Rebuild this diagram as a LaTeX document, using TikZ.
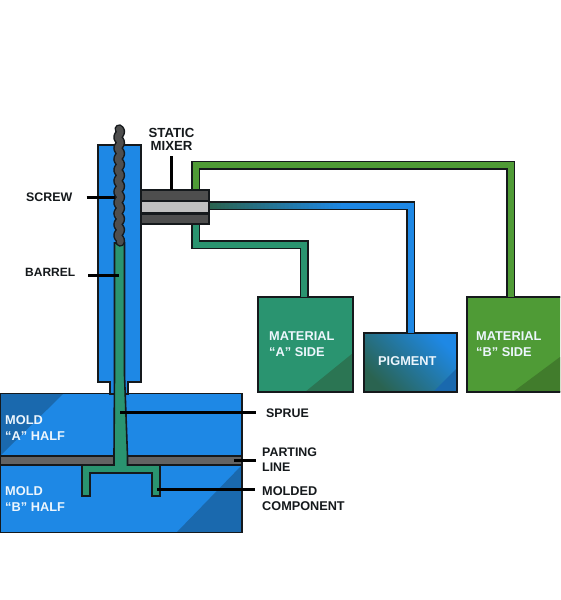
\documentclass[tikz,border=0pt]{standalone}
\usepackage{fontspec}
\setmainfont{Liberation Sans}
\definecolor{ink}{HTML}{15191C}
\definecolor{bluem}{HTML}{1E88E5}
\definecolor{blued}{HTML}{1A69AE}
\definecolor{tealm}{HTML}{2A9470}
\definecolor{teald}{HTML}{2B7553}
\definecolor{greenm}{HTML}{4F9B36}
\definecolor{greend}{HTML}{417C2C}
\definecolor{greym}{HTML}{4E4E4E}
\definecolor{greyp}{HTML}{636363}
\definecolor{greyl}{HTML}{C0C0C0}
\definecolor{pigd}{HTML}{2A6350}
\begin{document}
\begin{tikzpicture}[x=1pt,y=-1pt,
  box/.style={draw=ink,line width=1.6pt,inner sep=0pt,outer sep=0pt,rectangle},
  outline/.style={draw=ink,line width=1.6pt},
  pipeo/.style={draw=ink,line width=9pt,line join=miter},
  pipei/.style={line width=6pt,line join=miter},
  leader/.style={draw=black,line width=3pt},
  lab/.style={font=\fontsize{12.4}{15.5}\selectfont\bfseries,text=ink,align=left,inner sep=0pt,anchor=west},
  wlab/.style={font=\fontsize{12.8}{16}\selectfont\bfseries,text=white!92!bluem,align=left,inner sep=0pt,anchor=west}]
\useasboundingbox (0,0) rectangle (560,600);
\clip (0,0) rectangle (560,600);
\fill[white] (0,0) rectangle (560,600);
% anchors for pipes
\coordinate (gx) at (195.5,0);
\coordinate (bx) at (510.5,0);
\coordinate (ax) at (304,0);
\coordinate (px) at (410.5,0);
\coordinate (gy) at (0,165);
\coordinate (ay) at (0,244.5);
\coordinate (py) at (0,205.5);
% boxes
\node[box,fill=tealm,minimum width=95pt,minimum height=95pt] (matA) at (305.5,344.5) {};
\node[box,fill=greenm,minimum width=120pt,minimum height=95pt] (matB) at (527,344.5) {};
\node[box,top color=bluem,bottom color=pigd,shading angle=-45,minimum width=93pt,minimum height=59pt] (pig) at (410.5,362.5) {};
\fill[teald] (353,353) -- (353,392) -- (305,392) -- cycle;
\fill[greend] (560,357) -- (560,392) -- (513,392) -- cycle;
\fill[blued] (457,368) -- (457,392) -- (433,392) -- cycle;
\draw[outline] (matA.north west) rectangle (matA.south east);
\draw[outline] (matB.north west) rectangle (matB.south east);
\draw[outline] (pig.north west) rectangle (pig.south east);
% mixer
\node[box,fill=greym,minimum width=68pt,minimum height=34pt] (mixer) at (175,207) {};
% pipes
\draw[pipeo] (mixer.north -| gx) |- (gy -| bx) -- (matB.north -| bx);
\draw[pipei,greenm] (mixer.north -| gx) |- (gy -| bx) -- (matB.north -| bx);
\draw[pipeo] (mixer.south -| gx) |- (ay -| ax) -- (matA.north -| ax);
\draw[pipei,tealm] (mixer.south -| gx) |- (ay -| ax) -- (matA.north -| ax);
\draw[pipeo] (mixer.east |- py) -| (pig.north -| px);
\draw[pipei,bluem] (mixer.east |- py) -| (pig.north -| px);
\foreach \i in {0,...,33} {
  \pgfmathsetmacro{\pct}{\i*100/33}
  \fill[bluem!\pct!pigd] ({209+\i*4},202.5) rectangle ({209+\i*4+4.3},208.5);
}
% mixer parts
\fill[greyl] (141,201.5) rectangle (208,213);
\draw[line width=2.4pt,ink] (141,201) -- (209,201);
\draw[line width=2.4pt,ink] (141,213.5) -- (209,213.5);
\draw[outline] (mixer.north west) rectangle (mixer.south east);
% molds
\node[box,fill=bluem,minimum width=242pt,minimum height=63pt] (moldA) at (121,425) {};
\node[box,fill=bluem,minimum width=242pt,minimum height=68pt] (moldB) at (121,498.5) {};
\fill[blued] (0,394) -- (63,394) -- (0,456) -- cycle;
\fill[blued] (242,465) -- (242,532) -- (177,532) -- cycle;
\draw[outline] (moldA.north west) rectangle (moldA.south east);
\draw[outline] (moldB.north west) rectangle (moldB.south east);
\node[box,fill=greyp,minimum width=242pt,minimum height=9pt] (part) at (121,460.5) {};
% barrel
\fill[bluem,draw=ink,line width=1.6pt,line join=miter] (98,145) -- (141,145) -- (141,382) -- (128,382) -- (128,394) -- (110,394) -- (110,382) -- (98,382) -- cycle;
% sprue and component
\fill[tealm,draw=ink,line width=1.6pt,line join=miter] (114.5,243) -- (124.5,243) -- (124.5,375) -- (127.5,456) -- (127.5,465) -- (160,465) -- (160,496) -- (152,496) -- (152,473) -- (90,473) -- (90,496) -- (82,496) -- (82,465) -- (114,465) -- (114,456) -- (114.5,375) -- cycle;
% screw
\draw[ink,line width=9.5pt,line cap=round,line join=round] plot[smooth,domain=0:113,samples=70] ({119.2+1.3*sin(\x*33)},{129+\x});
\draw[greym,line width=6.5pt,line cap=round,line join=round] plot[smooth,domain=0:113,samples=70] ({119.2+1.3*sin(\x*33)},{129+\x});
% labels
\node[lab,align=center,anchor=center,font=\fontsize{13.2}{15.5}\selectfont\bfseries] (lmixer) at (171.5,139.5) {STATIC\\[-2.5pt]MIXER};
\node[lab] (lscrew) at (26,197) {SCREW};
\node[lab,font=\fontsize{12}{15.5}\selectfont\bfseries] (lbarrel) at (25,272) {BARREL};
\node[lab] (lsprue) at (266,413.5) {SPRUE};
\node[lab] (lparting) at (262,459.5) {PARTING\\LINE};
\node[lab,font=\fontsize{12.7}{15.5}\selectfont\bfseries] (lmolded) at (262,498.5) {MOLDED\\COMPONENT};
\coordinate (escrew) at (115,197);
\coordinate (ebarrel) at (119,275);
\coordinate (esprue) at (120,412);
\coordinate (eparting) at (234,460);
\coordinate (emolded) at (157,489);
\coordinate (ebarrelstart) at (88,275);
\coordinate (esprueend) at (256,412);
\coordinate (epartingend) at (256,460);
\coordinate (emoldedend) at (255,489);
\draw[leader,shorten <=14pt] (lscrew.east) -- (escrew);
\draw[leader] (ebarrelstart) -- (ebarrel);
\draw[leader,shorten <=2pt] (lmixer.south |- 0,154) -- (lmixer.south |- mixer.north);
\draw[leader] (esprue) -- (esprueend);
\draw[leader] (eparting) -- (epartingend);
\draw[leader] (emolded) -- (emoldedend);
% white labels
\node[wlab] (lmatA) at (269,344) {MATERIAL\\“A” SIDE};
\node[wlab] (lmatB) at (476,344) {MATERIAL\\“B” SIDE};
\node[wlab] (lpig) at (378,361) {PIGMENT};
\node[wlab] (lmoldA) at (5,428) {MOLD\\“A” HALF};
\node[wlab] (lmoldB) at (5,499) {MOLD\\“B” HALF};
\end{tikzpicture}
\end{document}
